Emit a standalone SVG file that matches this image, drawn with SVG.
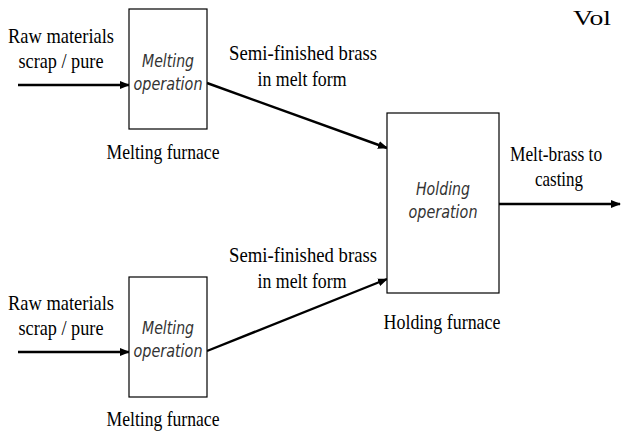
<svg xmlns="http://www.w3.org/2000/svg" width="621" height="436" viewBox="0 0 621 436">
<defs>
<marker id="ah" viewBox="0 0 10 8" refX="9" refY="4" markerWidth="10" markerHeight="8" markerUnits="userSpaceOnUse" orient="auto">
<path d="M0,0 L10,4 L0,8 Z" fill="#000"/>
</marker>
<style>
.box{fill:#fff;stroke:#000;stroke-width:1.2}
.lbl{font-family:"Liberation Serif","Times New Roman",serif;font-size:22px;fill:#000;text-anchor:middle}
.op{font-family:"DejaVu Sans","Liberation Sans",sans-serif;font-style:italic;font-size:17.5px;fill:#333;text-anchor:middle}
.con{stroke:#000;stroke-width:2.4;fill:none;marker-end:url(#ah)}
</style>
</defs>
<rect width="621" height="436" fill="#fff"/>
<g id="connectors">
<line class="con" x1="18" y1="85" x2="129" y2="85"/>
<line class="con" x1="18" y1="352" x2="129" y2="352"/>
<line class="con" x1="207" y1="83" x2="387" y2="148"/>
<line class="con" x1="207" y1="351" x2="387" y2="279"/>
<line class="con" x1="499" y1="204" x2="620" y2="204"/>
</g>
<g id="melting-top">
<rect class="box" x="129" y="9" width="78" height="120"/>
<text class="op" x="168" y="67" textLength="52" lengthAdjust="spacingAndGlyphs">Melting</text>
<text class="op" x="168" y="90" textLength="69" lengthAdjust="spacingAndGlyphs">operation</text>
<text class="lbl" x="163" y="159" textLength="113" lengthAdjust="spacingAndGlyphs">Melting furnace</text>
</g>
<g id="melting-bottom">
<rect class="box" x="129" y="277" width="78" height="120"/>
<text class="op" x="168" y="334" textLength="52" lengthAdjust="spacingAndGlyphs">Melting</text>
<text class="op" x="168" y="357" textLength="69" lengthAdjust="spacingAndGlyphs">operation</text>
<text class="lbl" x="163" y="426" textLength="113" lengthAdjust="spacingAndGlyphs">Melting furnace</text>
</g>
<g id="holding">
<rect class="box" x="387" y="113" width="112" height="180"/>
<text class="op" x="443" y="195" textLength="54" lengthAdjust="spacingAndGlyphs">Holding</text>
<text class="op" x="443" y="218" textLength="69" lengthAdjust="spacingAndGlyphs">operation</text>
<text class="lbl" x="442" y="329" textLength="117" lengthAdjust="spacingAndGlyphs">Holding furnace</text>
</g>
<g id="labels">
<text class="lbl" x="61" y="43" textLength="106" lengthAdjust="spacingAndGlyphs">Raw materials</text>
<text class="lbl" x="61" y="68" textLength="85" lengthAdjust="spacingAndGlyphs">scrap / pure</text>
<text class="lbl" x="61" y="310" textLength="106" lengthAdjust="spacingAndGlyphs">Raw materials</text>
<text class="lbl" x="61" y="335" textLength="85" lengthAdjust="spacingAndGlyphs">scrap / pure</text>
<text class="lbl" x="303" y="60" textLength="148" lengthAdjust="spacingAndGlyphs">Semi-finished brass</text>
<text class="lbl" x="302" y="86" textLength="89" lengthAdjust="spacingAndGlyphs">in melt form</text>
<text class="lbl" x="303" y="262" textLength="148" lengthAdjust="spacingAndGlyphs">Semi-finished brass</text>
<text class="lbl" x="302" y="288" textLength="89" lengthAdjust="spacingAndGlyphs">in melt form</text>
<text class="lbl" transform="translate(556,161) scale(0.79,1)" x="0" y="0">Melt-brass to</text>
<text class="lbl" x="559" y="186" textLength="48" lengthAdjust="spacingAndGlyphs">casting</text>
<text class="lbl" x="592" y="25" textLength="38" lengthAdjust="spacingAndGlyphs">Vol</text>
</g>
</svg>
